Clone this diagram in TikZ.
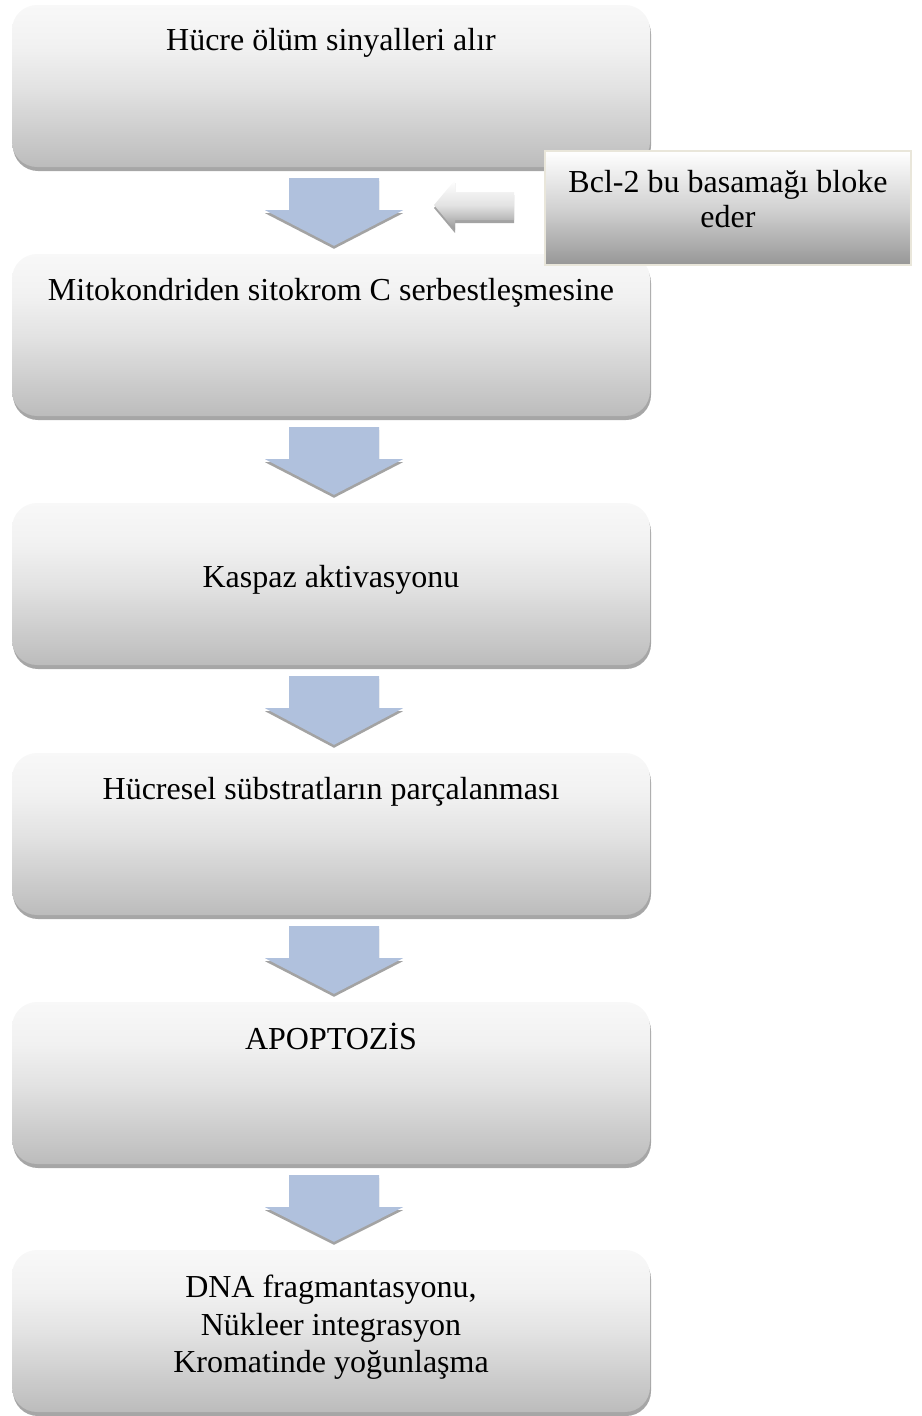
\documentclass[tikz,border=0pt]{standalone}
\usepackage{fontspec}
\setmainfont{Liberation Serif}
\usetikzlibrary{calc,shadows}
\definecolor{boxtop}{HTML}{F8F8F8}
\definecolor{boxhi}{HTML}{F1F1F1}
\definecolor{boxmid}{HTML}{E3E3E3}
\definecolor{boxbot}{HTML}{BCBCBC}
\definecolor{boxshadow}{HTML}{A6A6A6}
\definecolor{arrowblue}{HTML}{B0C1DD}
\definecolor{arrowshadow}{HTML}{A3A3A3}
\definecolor{bclborder}{HTML}{E9E6DA}
\definecolor{bcltop}{HTML}{FFFFFF}
\definecolor{bclmid}{HTML}{D2D2D2}
\definecolor{bclbot}{HTML}{979797}
\pgfdeclareverticalshading{boxshade}{100bp}{color(0bp)=(boxbot); color(25bp)=(boxbot); color(50bp)=(boxmid); color(62bp)=(boxhi); color(75bp)=(boxtop); color(100bp)=(boxtop)}
\pgfdeclareverticalshading{bclshade}{100bp}{color(0bp)=(bclbot); color(25bp)=(bclbot); color(50bp)=(bclmid); color(75bp)=(bcltop); color(100bp)=(bcltop)}
\pgfdeclareverticalshading{leftshade}{100bp}{color(0bp)=(bclbot); color(25bp)=(bclbot); color(50bp)=(boxmid); color(75bp)=(bcltop); color(100bp)=(bcltop)}
\newcommand\flowarrow[2]{%
  \coordinate (#1-#2-s) at ($(#1.south)+(3,11)$);
  \coordinate (#1-#2-e) at ($(#2.north)+(3,-8)$);
  \path[blockarrow] ($(#1-#2-s)+(-45,0)$) -- ($(#1-#2-s)+(45,0)$) -- ($(#1-#2-s)+(45,32)$) -- ($(#1-#2-s)+(69,32)$) -- (#1-#2-e) -- ($(#1-#2-s)+(-69,32)$) -- ($(#1-#2-s)+(-45,32)$) -- cycle;}
\begin{document}
\begin{tikzpicture}[x=1pt,y=-1pt,
  flowbox/.style={rounded corners=25pt, shading=boxshade, minimum width=638pt, minimum height=162pt, inner sep=0pt,
    drop shadow={shadow xshift=1pt, shadow yshift=-4pt, fill=boxshadow, opacity=1}},
  boxtext/.style={anchor=base, font=\fontsize{32}{37.5}\selectfont, inner sep=0pt},
  multitext/.style={align=center, font=\fontsize{32}{37.5}\selectfont, inner sep=0pt},
  blockarrow/.style={fill=arrowblue, drop shadow={shadow xshift=0pt, shadow yshift=-3pt, fill=arrowshadow, opacity=1}},
  inhibarrow/.style={shading=leftshade, drop shadow={shadow xshift=0pt, shadow yshift=-3pt, fill=arrowshadow, opacity=1}},
  bclbox/.style={draw=bclborder, line width=2pt, shading=bclshade, minimum width=366pt, minimum height=114pt, inner sep=0pt}
]
\useasboundingbox (0,0) rectangle (921,1416);

\node[flowbox] (b1) at (331,86) {};
\node[flowbox] (b2) at (331,335) {};
\node[flowbox] (b3) at (331,584) {};
\node[flowbox] (b4) at (331,834) {};
\node[flowbox] (b5) at (331,1083) {};
\node[flowbox] (b6) at (331,1331) {};

\node[boxtext] (t1) at ($(b1.north)+(0,46)$) {Hücre ölüm sinyalleri alır};
\node[boxtext] (t2) at ($(b2.north)+(0,47)$) {Mitokondriden sitokrom C serbestleşmesine};
\node[boxtext] (t3) at ($(b3.center)+(0,3)$) {Kaspaz aktivasyonu};
\node[boxtext] (t4) at ($(b4.north)+(0,47)$) {Hücresel sübstratların parçalanması};
\node[boxtext] (t5) at ($(b5.north)+(0,48)$) {APOPTOZİS};
\node[multitext] (t6) at ($(b6.center)+(0,-3.5)$) {DNA fragmantasyonu,\\Nükleer integrasyon\\Kromatinde yoğunlaşma};

\flowarrow{b1}{b2}
\flowarrow{b2}{b3}
\flowarrow{b3}{b4}
\flowarrow{b4}{b5}
\flowarrow{b5}{b6}

\node[bclbox] (bcl) at (728,208) {};
\node[multitext, font=\fontsize{32}{35}\selectfont] (bclt) at ($(bcl.center)+(0,-9)$) {Bcl-2 bu basamağı bloke\\eder};

\coordinate (inh) at ($(bcl.west)+(-30,-2)$);
\coordinate (inhtip) at ($(bcl.west)+(-110,-3)$);
\path[inhibarrow] ($(inh)+(0,-14)$) -- ($(inh)+(0,14)$) -- ($(inhtip)+(21,15)$) -- ($(inhtip)+(21,25)$) -- (inhtip) -- ($(inhtip)+(21,-25)$) -- ($(inhtip)+(21,-13)$) -- cycle;
\end{tikzpicture}
\end{document}
